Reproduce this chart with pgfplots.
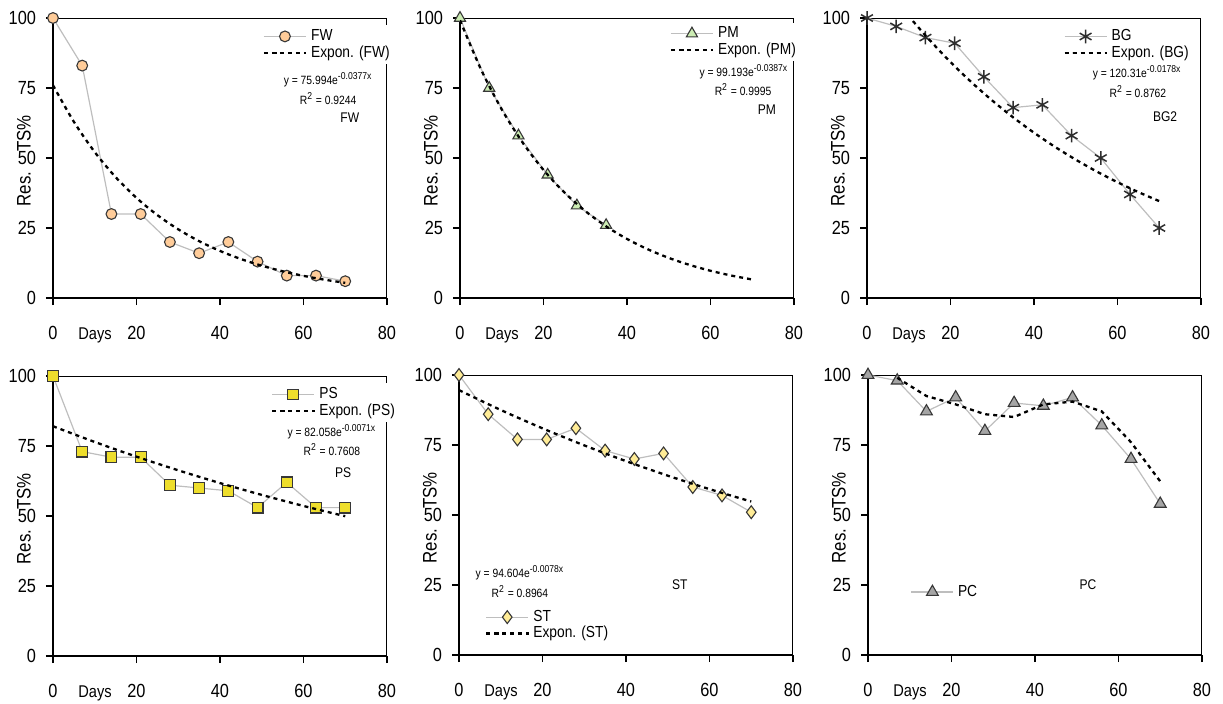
\documentclass[border=0pt]{standalone}
\usepackage{fontspec}
\setmainfont{Liberation Sans}[FakeStretch=0.86]
\usepackage{pgfplots}
\pgfplotsset{compat=1.18}

\definecolor{linegray}{RGB}{190,190,190}
\definecolor{edgegray}{RGB}{55,55,55}
\definecolor{peach}{RGB}{255,204,153}
\definecolor{palegreen}{RGB}{204,236,179}
\definecolor{yellowps}{RGB}{238,222,44}
\definecolor{paleyellow}{RGB}{255,236,150}
\definecolor{graypc}{RGB}{165,165,165}
\definecolor{darkbg}{RGB}{45,45,45}

\pgfplotsset{
  panel/.style={
    scale only axis, width=167pt, height=140pt,
    xmin=0, xmax=80, ymin=0, ymax=100,
    xtick={0,20,40,60,80}, ytick={0,25,50,75,100},
    axis x line*=bottom, axis y line*=left,
    axis line style={line width=0.9pt},
    tick align=outside, major tick length=3.5pt,
    tick style={black, line width=0.7pt},
    tick label style={font=\fontsize{9.5}{10}\selectfont},
    /pgf/number format/assume math mode=true,
    xticklabel style={anchor=base, yshift=-17pt},
    yticklabel style={xshift=-1.5pt},
    ylabel={Res.\hspace{10pt}TS\%},
    every axis y label/.style={at={(axis description cs:-0.087,0.49)}, rotate=90, anchor=center,
      font=\fontsize{9.8}{11}\selectfont},
    xlabel={Days},
    every axis x label/.style={at={(axis description cs:0.126,0)}, anchor=base, yshift=-20.5pt,
      font=\fontsize{8.5}{9}\selectfont},
    clip mode=individual,
    legend cell align=left,
    legend style={draw=none, fill=white, inner xsep=2pt, inner ysep=0pt,
      font=\fontsize{8}{8.5}\selectfont, row sep=-3pt},
    legend image code/.code={\draw[mark repeat=2,mark phase=2,#1]
      plot coordinates {(0pt,0pt) (10.5pt,0pt) (21pt,0pt)};},
  },
  dataline/.style={color=linegray, line width=0.6pt},
  mk/.style={mark options={solid, draw=edgegray, line width=0.55pt, fill=#1}},
  trend/.style={black, line width=1.15pt, dash pattern=on 2pt off 2pt},
}
\newcommand{\frametr}{\draw[line width=0.5pt] (rel axis cs:0,1) -- (rel axis cs:1,1) -- (rel axis cs:1,0);}
\newcommand{\eqfont}{\fontsize{6}{7}\selectfont}
\newcommand{\tagfont}{\fontsize{7}{8}\selectfont}

\begin{document}
\begin{tikzpicture}
\path[use as bounding box] (0,0) rectangle (611.5pt,-351.5pt);

% FW
\begin{axis}[panel, at={(26.5pt,-149pt)}, anchor=south west,
  legend style={at={(0.615,0.975)}, anchor=north west}]
\frametr
\addplot[dataline, mark=*, mark size=2.7pt, mk=peach] coordinates {
(0,100) (7,83) (14,30) (21,30) (28,20) (35,16) (42,20) (49,13) (56,8) (63,8) (70,6)};
\addlegendentry{FW}
\addplot[trend, smooth] coordinates {
(0,75.99) (5,62.94) (10,52.12) (15,43.17) (20,35.75) (25,29.61) (30,24.53) (35,20.31)
(40,16.82) (45,13.93) (50,11.54) (55,9.55) (60,7.91) (65,6.55) (70,5.43)};
\addlegendentry{Expon. (FW)}
\node[font=\eqfont] at (axis cs:65.9,77.9) {y = 75.994e\textsuperscript{-0.0377x}};
\node[font=\eqfont] at (axis cs:65.9,71.4) {R\textsuperscript{2} = 0.9244};
\node[font=\tagfont] at (axis cs:71.1,64.3) {FW};
\end{axis}

% PM
\begin{axis}[panel, at={(230pt,-149pt)}, anchor=south west,
  legend style={at={(0.615,0.985)}, anchor=north west}]
\frametr
\addplot[dataline, mark=triangle*, mark size=3.2pt, mk=palegreen] coordinates {
(0,100) (7,75) (14,58) (21,44) (28,33) (35,26)};
\addlegendentry{PM}
\addplot[trend, smooth] coordinates {
(0,99.19) (5,81.75) (10,67.36) (15,55.51) (20,45.74) (25,37.70) (30,31.07) (35,25.60)
(40,21.10) (45,17.39) (50,14.33) (55,11.81) (60,9.73) (65,8.02) (70,6.61)};
\addlegendentry{Expon. (PM)}
\node[font=\eqfont] at (axis cs:68.0,80.7) {y = 99.193e\textsuperscript{-0.0387x}};
\node[font=\eqfont] at (axis cs:67.8,74.6) {R\textsuperscript{2} = 0.9995};
\node[font=\tagfont] at (axis cs:73.5,67.1) {PM};
\end{axis}

% BG
\begin{axis}[panel, at={(433.5pt,-149pt)}, anchor=south west,
  legend style={at={(0.575,0.975)}, anchor=north west}]
\frametr
\addplot[dataline, mark=asterisk, mark size=3.4pt, mark options={solid, draw=darkbg, line width=0.75pt}] coordinates {
(0,100) (7,97) (14,93) (21,91) (28,79) (35,68) (42,69) (49,58) (56,50) (63,37) (70,25)};
\addlegendentry{BG}
\addplot[trend, smooth] coordinates {
(11,98.92) (15,92.12) (20,84.28) (25,77.10) (30,70.53) (35,64.52) (40,59.04)
(45,54.01) (50,49.41) (55,45.20) (60,41.35) (65,37.83) (70,34.61)};
\addlegendentry{Expon. (BG)}
\node[font=\eqfont] at (axis cs:64.7,80.4) {y = 120.31e\textsuperscript{-0.0178x}};
\node[font=\eqfont] at (axis cs:64.9,73.9) {R\textsuperscript{2} = 0.8762};
\node[font=\tagfont] at (axis cs:71.4,64.6) {BG2};
\end{axis}

% PS
\begin{axis}[panel, at={(26.5pt,-328pt)}, anchor=south west,
  legend style={at={(0.64,0.975)}, anchor=north west}]
\frametr
\addplot[dataline, mark=square*, mark size=2.7pt, mk=yellowps] coordinates {
(0,100) (7,73) (14,71) (21,71) (28,61) (35,60) (42,59) (49,53) (56,62) (63,53) (70,53)};
\addlegendentry{PS}
\addplot[trend, smooth] coordinates {
(0,82.06) (10,76.44) (20,71.20) (30,66.32) (40,61.77) (50,57.54) (60,53.60) (70,49.92)};
\addlegendentry{Expon. (PS)}
\node[font=\eqfont] at (axis cs:66.8,80.0) {y = 82.058e\textsuperscript{-0.0071x}};
\node[font=\eqfont] at (axis cs:66.8,73.9) {R\textsuperscript{2} = 0.7608};
\node[font=\tagfont] at (axis cs:69.5,65.4) {PS};
\end{axis}

% ST
\begin{axis}[panel, at={(229.5pt,-327.5pt)}, anchor=south west,
  legend style={at={(0.065,0.035)}, anchor=south west}]
\frametr
\addplot[dataline, mark=diamond*, mark size=3.2pt, mk=paleyellow] coordinates {
(0,100) (7,86) (14,77) (21,77) (28,81) (35,73) (42,70) (49,72) (56,60) (63,57) (70,51)};
\addlegendentry{ST}
\addplot[trend, smooth] coordinates {
(0,94.60) (10,87.51) (20,80.95) (30,74.87) (40,69.25) (50,64.06) (60,59.25) (70,54.81)};
\addlegendentry{Expon. (ST)}
\node[font=\eqfont] at (axis cs:14.6,29.3) {y = 94.604e\textsuperscript{-0.0078x}};
\node[font=\eqfont] at (axis cs:14.6,22.5) {R\textsuperscript{2} = 0.8964};
\node[font=\tagfont] at (axis cs:52.9,25) {ST};
\end{axis}

% PC
\begin{axis}[panel, at={(434pt,-327.5pt)}, anchor=south west,
  legend style={at={(0.115,0.225)}, anchor=west, fill=none}]
\frametr
\addplot[dataline, mark=triangle*, mark size=3.4pt, mk=graypc] coordinates {
(0,100) (7,98) (14,87) (21,92) (28,80) (35,90) (42,89) (49,92) (56,82) (63,70) (70,54)};
\addlegendentry{PC}
\addplot[trend, forget plot] coordinates {
(7,99) (14,92.5) (21,89.5) (28,86) (35,85) (42,89.5) (49,90.5) (56,87) (63,76) (70,62)};
\node[font=\tagfont] at (axis cs:52.7,25) {PC};
\end{axis}
\end{tikzpicture}
\end{document}
